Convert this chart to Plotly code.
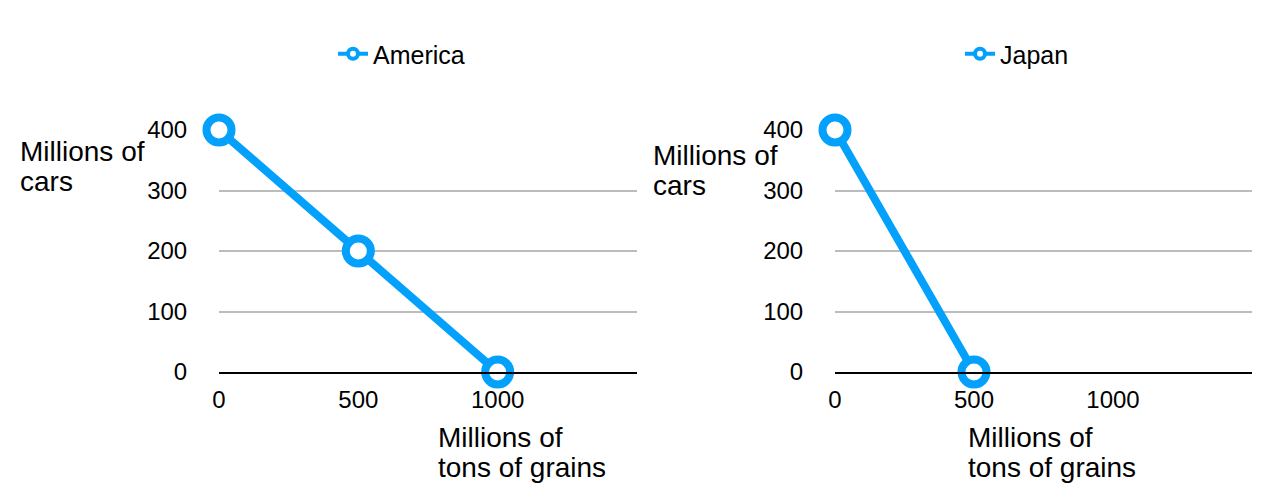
import plotly.graph_objects as go

america_x = [0, 500, 1000]
america_y = [400, 200, 0]
japan_x = [0, 500]
japan_y = [400, 0]
x_ticks = [0, 500, 1000]
y_ticks = [0, 100, 200, 300, 400]

BLUE = "#03a1fb"
FONT = "Liberation Sans, Helvetica, Arial, sans-serif"
W, H = 1286, 498
OFF = 8  # page body margin

fig = go.Figure()
marker = dict(size=25, color="white", line=dict(color=BLUE, width=8))
fig.add_trace(go.Scatter(x=america_x, y=america_y, mode="lines+markers", name="America",
                         line=dict(color=BLUE, width=8), marker=marker, cliponaxis=False,
                         xaxis="x", yaxis="y", showlegend=False))
fig.add_trace(go.Scatter(x=japan_x, y=japan_y, mode="lines+markers", name="Japan",
                         line=dict(color=BLUE, width=8), marker=marker, cliponaxis=False,
                         xaxis="x2", yaxis="y2", showlegend=False))
# legend entries (small symbols, as in the reference)
leg_marker = dict(size=10, color="white", line=dict(color=BLUE, width=4))
fig.add_trace(go.Scatter(x=[None], y=[None], mode="lines+markers", name="America",
                         line=dict(color=BLUE, width=4), marker=leg_marker,
                         xaxis="x", yaxis="y", legend="legend", showlegend=True))
fig.add_trace(go.Scatter(x=[None], y=[None], mode="lines+markers", name="Japan",
                         line=dict(color=BLUE, width=4), marker=leg_marker,
                         xaxis="x2", yaxis="y2", legend="legend2", showlegend=True))

def px(v):
    return (v - OFF) / W

def py(v):
    return 1 - (v - OFF) / H

TICK = dict(size=24, color="black", family=FONT)
xcommon = dict(range=[0, 1500], tickvals=x_ticks, showgrid=False, zeroline=False,
               showline=True, linecolor="black", linewidth=2,
               ticks="outside", ticklen=5, tickcolor="rgba(0,0,0,0)",
               tickfont=TICK, fixedrange=True, automargin=False)
ycommon = dict(range=[0, 400], tickvals=y_ticks, showgrid=True, gridcolor="#bcbcbc", gridwidth=2,
               zeroline=False, showline=False,
               ticks="outside", ticklen=26, tickcolor="rgba(0,0,0,0)",
               tickfont=TICK, fixedrange=True, automargin=False)

ydom = [py(372), py(130)]
fig.update_layout(
    width=W, height=H,
    margin=dict(l=0, r=0, t=0, b=0, autoexpand=False),
    paper_bgcolor="white", plot_bgcolor="white",
    font=dict(family=FONT, color="black"),
    showlegend=True,
    xaxis=dict(domain=[px(219), px(637)], anchor="y", **xcommon),
    yaxis=dict(domain=ydom, anchor="x", **ycommon),
    xaxis2=dict(domain=[px(835), px(1252)], anchor="y2", **xcommon),
    yaxis2=dict(domain=ydom, anchor="x2", **ycommon),
    legend=dict(x=px(333), y=py(54), xanchor="left", yanchor="middle", orientation="h",
                font=dict(size=25, family=FONT), bgcolor="rgba(0,0,0,0)"),
    legend2=dict(x=px(960), y=py(54), xanchor="left", yanchor="middle", orientation="h",
                 font=dict(size=25, family=FONT), bgcolor="rgba(0,0,0,0)"),
)

title_font = dict(size=28, family=FONT, color="black")
ann = [
    (18, 151, "Millions of"), (18, 181, "cars"),
    (651, 155, "Millions of"), (651, 185, "cars"),
    (436, 437, "Millions of"), (436, 467, "tons of grains"),
    (966, 437, "Millions of"), (966, 467, "tons of grains"),
]
for ax, ay, t in ann:
    fig.add_annotation(x=px(ax), y=py(ay), xref="paper", yref="paper", text=t,
                       showarrow=False, xanchor="left", yanchor="middle", align="left",
                       font=title_font)

fig.write_html("out.html")
